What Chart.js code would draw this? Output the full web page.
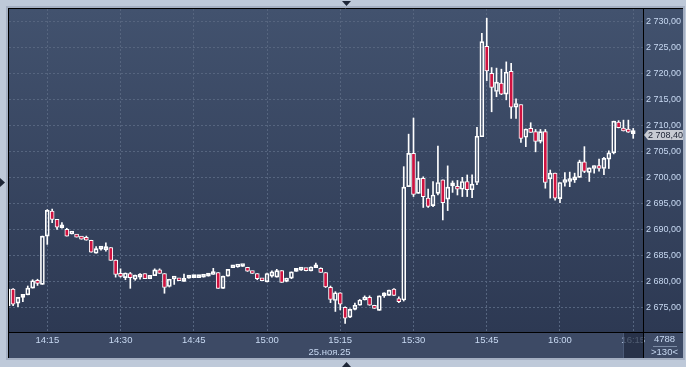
<!DOCTYPE html>
<html><head><meta charset="utf-8">
<script src="https://cdn.jsdelivr.net/npm/chart.js@4/dist/chart.umd.min.js"></script>
<style>html,body{margin:0;padding:0;background:#bec9d9;overflow:hidden}#wrap{width:686px;height:367px;position:relative}canvas{display:block}</style>
</head><body>
<div id="wrap"><canvas id="c" width="686" height="367"></canvas></div>
<script>
// ---- DATA ----
const times = [
 '14:07','14:08','14:09','14:10','14:11','14:12','14:13','14:14','14:15','14:16',
 '14:17','14:18','14:19','14:20','14:21','14:22','14:23','14:24','14:25','14:26',
 '14:27','14:28','14:29','14:30','14:31','14:32','14:33','14:34','14:35','14:36',
 '14:37','14:38','14:39','14:40','14:41','14:42','14:43','14:44','14:45','14:46',
 '14:47','14:48','14:49','14:50','14:51','14:52','14:53','14:54','14:55','14:56',
 '14:57','14:58','14:59','15:00','15:01','15:02','15:03','15:04','15:05','15:06',
 '15:07','15:08','15:09','15:10','15:11','15:12','15:13','15:14','15:15','15:16',
 '15:17','15:18','15:19','15:20','15:21','15:22','15:23','15:24','15:25','15:26',
 '15:27','15:28','15:29','15:30','15:31','15:32','15:33','15:34','15:35','15:36',
 '15:37','15:38','15:39','15:40','15:41','15:42','15:43','15:44','15:45','15:46',
 '15:47','15:48','15:49','15:50','15:51','15:52','15:53','15:54','15:55','15:56',
 '15:57','15:58','15:59','16:00','16:01','16:02','16:03','16:04','16:05','16:06',
 '16:07','16:08','16:09','16:10','16:11','16:12','16:13','16:14','16:15'];
const opens = [
 2675.3,2678.5,2675.8,2676.9,2677.4,2678.7,2680.0,2679.4,2688.7,2693.5,
 2691.9,2690.3,2690.0,2689.1,2689.0,2688.5,2688.3,2687.9,2685.4,2686.2,
 2686.1,2686.5,2684.1,2681.35,2680.7,2681.5,2680.4,2680.8,2681.5,2680.5,
 2681.1,2682.2,2681.5,2679.0,2680.45,2680.4,2680.0,2680.6,2680.7,2680.7,
 2680.8,2681.0,2681.3,2681.7,2678.65,2681.0,2682.6,2682.75,2682.85,2682.7,
 2681.95,2681.5,2680.5,2679.9,2681.0,2680.8,2682.05,2680.0,2680.6,2681.9,
 2682.15,2682.3,2682.0,2682.6,2682.5,2681.7,2678.85,2676.3,2677.8,2675.0,
 2673.1,2674.6,2675.4,2676.4,2676.9,2675.4,2674.4,2677.2,2677.3,2678.5,
 2676.7,2676.4,2698.2,2704.6,2696.9,2699.8,2696.0,2694.55,2696.9,2699.5,
 2695.8,2698.35,2698.1,2697.7,2699.2,2697.6,2699.0,2707.8,2725.2,2720.0,
 2716.5,2718.1,2716.0,2720.4,2713.5,2714.0,2707.7,2709.4,2708.8,2706.9,
 2708.8,2699.7,2700.8,2695.9,2699.0,2699.2,2699.5,2700.0,2703.0,2700.95,
 2701.7,2702.2,2701.7,2703.5,2704.7,2710.6,2709.4,2708.75,2708.4];
const highs = [
 2678.6,2678.6,2676.9,2677.3,2679.1,2680.3,2680.4,2688.7,2693.8,2693.9,
 2691.9,2691.3,2690.2,2689.2,2689.0,2688.5,2688.7,2687.9,2686.7,2686.4,
 2687.4,2686.5,2684.1,2682.4,2681.6,2681.7,2681.2,2681.5,2681.5,2681.15,
 2682.4,2682.4,2681.5,2680.4,2680.6,2680.4,2681.4,2680.8,2681.0,2680.8,
 2681.0,2681.35,2682.5,2681.7,2681.0,2682.3,2682.8,2682.85,2683.1,2682.7,
 2681.95,2681.5,2680.5,2681.6,2682.0,2682.3,2682.05,2680.6,2681.8,2682.5,
 2682.3,2682.3,2682.8,2683.5,2682.6,2681.7,2679.1,2678.0,2677.8,2675.1,
 2674.7,2675.8,2676.5,2677.2,2677.2,2675.4,2677.2,2677.8,2678.3,2678.6,
 2677.0,2702.05,2708.3,2711.4,2703.0,2700.1,2697.75,2699.2,2706.0,2699.5,
 2702.2,2699.3,2699.4,2700.0,2700.45,2700.5,2709.6,2727.7,2730.6,2721.1,
 2721.0,2720.8,2722.2,2721.9,2715.1,2714.0,2709.3,2710.5,2709.2,2709.2,
 2709.2,2701.4,2700.8,2699.0,2700.9,2701.0,2700.8,2703.3,2705.9,2701.8,
 2702.2,2703.5,2703.85,2705.1,2710.8,2710.9,2711.0,2711.0,2709.4];
const lows = [
 2675.1,2675.3,2675.1,2676.1,2677.4,2678.7,2679.2,2679.4,2687.1,2691.3,
 2690.0,2690.2,2688.7,2689.1,2688.5,2688.1,2687.9,2685.6,2685.4,2686.0,
 2685.8,2684.0,2680.8,2680.8,2680.3,2678.65,2680.2,2680.4,2680.5,2680.5,
 2681.1,2681.5,2677.7,2678.9,2679.4,2680.1,2680.0,2680.6,2680.7,2680.7,
 2680.8,2681.0,2681.3,2678.65,2678.65,2681.0,2682.6,2682.7,2682.85,2681.9,
 2681.5,2680.3,2680.1,2679.9,2680.8,2680.8,2679.8,2679.9,2680.5,2681.9,
 2682.1,2682.0,2682.0,2682.6,2681.7,2678.8,2675.9,2674.2,2674.5,2671.9,
 2673.0,2674.5,2675.4,2676.4,2675.4,2674.8,2674.4,2676.9,2677.3,2677.3,
 2675.9,2676.2,2698.2,2696.3,2696.9,2694.2,2694.2,2694.35,2696.6,2691.8,
 2693.6,2697.1,2696.6,2696.3,2696.3,2696.1,2698.6,2707.8,2718.6,2712.6,
 2715.5,2715.9,2714.9,2711.35,2711.35,2706.7,2705.9,2708.65,2704.9,2706.6,
 2697.9,2696.0,2695.6,2695.1,2698.3,2698.2,2699.0,2700.0,2700.9,2699.2,
 2700.8,2701.2,2700.5,2701.7,2704.5,2709.5,2708.9,2708.65,2707.5];
const closes = [
 2678.5,2675.6,2676.9,2677.3,2678.7,2680.1,2679.6,2688.7,2693.65,2691.9,
 2690.4,2690.4,2688.7,2689.2,2688.5,2688.1,2687.9,2685.6,2686.3,2686.25,
 2686.5,2684.0,2681.3,2680.96,2681.6,2680.7,2681.2,2681.3,2680.5,2681.15,
 2682.2,2681.5,2678.8,2680.4,2680.6,2680.1,2680.4,2680.8,2680.8,2680.8,
 2681.0,2681.35,2681.7,2678.65,2681.0,2682.3,2682.8,2682.8,2682.95,2681.95,
 2681.5,2680.5,2680.1,2681.5,2681.8,2682.05,2679.8,2680.6,2681.8,2682.15,
 2682.25,2682.05,2682.75,2682.75,2681.7,2678.9,2676.5,2677.8,2675.6,2672.9,
 2674.6,2675.4,2676.4,2676.9,2675.4,2674.8,2677.2,2677.45,2678.3,2677.3,
 2676.1,2698.1,2704.6,2696.7,2699.8,2696.3,2694.4,2696.6,2699.0,2695.1,
 2698.1,2698.45,2697.7,2699.2,2697.6,2698.7,2707.9,2726.1,2720.45,2717.3,
 2718.3,2716.0,2720.2,2713.5,2714.2,2707.5,2709.3,2708.65,2706.9,2708.8,
 2699.0,2700.8,2696.0,2699.0,2699.5,2699.7,2700.0,2703.0,2701.15,2701.8,
 2702.2,2701.7,2703.65,2704.7,2710.8,2709.55,2708.9,2708.7,2708.4];
const priceTicks = [2675,2680,2685,2690,2695,2700,2705,2710,2715,2720,2725,2730];
const timeTickLabels = ['14:15','14:30','14:45','15:00','15:15','15:30','15:45','16:00','16:15'];
const dateLabel = '25.ноя.25';
const lastPrice = 2708.40;
const volumeLabel = '4788';
const barsLabel = '>130<';

// ---- helpers ----
const toMin = t => { const p = t.split(':').map(Number); return (p[0] - 14) * 60 + p[1]; };
const xs = times.map(toMin);
const timeTicks = timeTickLabels.map(toMin);
const fmtPrice = v => {
  const s = v.toFixed(2).split('.');
  return s[0].replace(/\B(?=(\d{3})+(?!\d))/g, ' ') + ',' + s[1];
};
const isDown = closes.map((c, i) => c < opens[i]);
const bodyData = xs.map((x, i) => ({x, y: [opens[i], closes[i]]}));
const upWick = xs.map((x, i) => ({x, y: [Math.max(opens[i], closes[i]), highs[i]]}));
const loWick = xs.map((x, i) => ({x, y: [lows[i], Math.min(opens[i], closes[i])]}));

const FONT = "'Liberation Sans', Arial, sans-serif";
const LABEL = '#c8d9f2';

const deco = {
  id: 'deco',
  beforeDraw(chart) {
    const ctx = chart.ctx, a = chart.chartArea;
    ctx.save();
    ctx.fillStyle = '#bec9d9';
    ctx.fillRect(0, 0, 686, 367);
    ctx.fillStyle = '#a4afc2';
    ctx.fillRect(6, 6, 679, 354);
    const g = ctx.createLinearGradient(0, a.top, 0, a.bottom);
    g.addColorStop(0, '#42526e');
    g.addColorStop(1, '#2d3953');
    ctx.fillStyle = g;
    ctx.fillRect(a.left, a.top, 683 - a.left, a.bottom - a.top);
    ctx.fillStyle = '#3d4a65';
    ctx.fillRect(a.left, a.bottom, 683 - a.left, 358 - a.bottom);
    ctx.restore();
  },
  afterDraw(chart) {
    const ctx = chart.ctx, a = chart.chartArea, y = chart.scales.y;
    ctx.save();
    // 16:15 highlight box
    ctx.fillStyle = 'rgba(32,42,62,0.72)';
    ctx.fillRect(623, a.bottom + 1, a.right - 623, 358 - a.bottom - 1);
    ctx.fillStyle = 'rgba(110,130,165,0.5)';
    ctx.fillRect(623, a.bottom + 1, 1, 358 - a.bottom - 1);
    // frame lines
    ctx.strokeStyle = '#000';
    ctx.lineWidth = 1;
    ctx.beginPath();
    ctx.moveTo(8, 8.5); ctx.lineTo(683, 8.5);
    ctx.moveTo(8.5, 8); ctx.lineTo(8.5, 358);
    ctx.moveTo(a.right + 0.5, 8); ctx.lineTo(a.right + 0.5, 358);
    ctx.moveTo(8, a.bottom + 0.5); ctx.lineTo(683, a.bottom + 0.5);
    ctx.stroke();
    // date label
    ctx.fillStyle = LABEL;
    ctx.font = '9.5px ' + FONT;
    ctx.textAlign = 'center';
    ctx.textBaseline = 'middle';
    ctx.fillText(dateLabel, 329.5, 352.5);
    // corner box
    ctx.fillText(volumeLabel, 664.5, 339.5);
    ctx.fillText(barsLabel, 664.5, 352.5);
    ctx.fillStyle = '#7d8ca6';
    ctx.fillRect(653, 346, 24, 1);
    // current price tag
    const py = Math.round(y.getPixelForValue(lastPrice)) + 1;
    ctx.fillStyle = '#c7cbd3';
    ctx.beginPath();
    ctx.moveTo(a.right + 1, py);
    ctx.lineTo(a.right + 5, py - 5);
    ctx.lineTo(683, py - 5);
    ctx.lineTo(683, py + 5);
    ctx.lineTo(a.right + 5, py + 5);
    ctx.closePath();
    ctx.fill();
    ctx.fillStyle = '#1b2233';
    ctx.font = '9px ' + FONT;
    ctx.textAlign = 'left';
    ctx.fillText(fmtPrice(lastPrice), 648, py + 0.5);
    // handles
    ctx.fillStyle = '#1e2637';
    ctx.beginPath(); ctx.moveTo(342, 1); ctx.lineTo(351, 1); ctx.lineTo(346.5, 6); ctx.closePath(); ctx.fill();
    ctx.beginPath(); ctx.moveTo(342, 367); ctx.lineTo(351, 367); ctx.lineTo(346.5, 362); ctx.closePath(); ctx.fill();
    ctx.beginPath(); ctx.moveTo(0, 178); ctx.lineTo(0, 187); ctx.lineTo(5, 182.5); ctx.closePath(); ctx.fill();
    ctx.restore();
  }
};

new Chart(document.getElementById('c'), {
  type: 'bar',
  data: {
    datasets: [
      {data: bodyData, backgroundColor: isDown.map(d => d ? '#cf1240' : 'rgba(0,0,0,0)'),
       borderColor: '#ffffff', borderWidth: 1, borderSkipped: false, barThickness: 4,
       minBarLength: 3, grouped: false},
      {data: upWick, backgroundColor: '#ffffff', borderWidth: 0, barThickness: 1, grouped: false},
      {data: loWick, backgroundColor: '#ffffff', borderWidth: 0, barThickness: 1, grouped: false}
    ]
  },
  options: {
    responsive: false,
    animation: false,
    events: [],
    layout: {padding: {left: 9, top: 9, right: 3, bottom: 9}},
    plugins: {legend: {display: false}, tooltip: {enabled: false}},
    scales: {
      x: {
        type: 'linear', min: 7.16, max: 137.0, offset: false,
        afterBuildTicks: s => { s.ticks = timeTicks.map(v => ({value: v})); },
        afterFit: s => { s.height = 26; s.paddingLeft = 0; s.paddingRight = 0; },
        ticks: {
          callback: v => timeTickLabels[timeTicks.indexOf(v)],
          color: LABEL, font: {family: FONT, size: 9.5}, padding: 3,
          maxRotation: 0, autoSkip: false
        },
        grid: {color: '#56657f', lineWidth: 1, drawTicks: false, offset: false},
        border: {display: false, dash: [2, 2]}
      },
      y: {
        position: 'right', min: 2670.25, max: 2732.37,
        afterBuildTicks: s => { s.ticks = priceTicks.map(v => ({value: v})); },
        afterFit: s => { s.width = 40; s.paddingTop = 0; s.paddingBottom = 0; },
        ticks: {
          callback: v => fmtPrice(v),
          color: LABEL, font: {family: FONT, size: 9}, padding: 3
        },
        grid: {color: '#56657f', lineWidth: 1, drawTicks: false},
        border: {display: false, dash: [2, 2]}
      }
    }
  },
  plugins: [deco]
});
</script>
</body></html>
